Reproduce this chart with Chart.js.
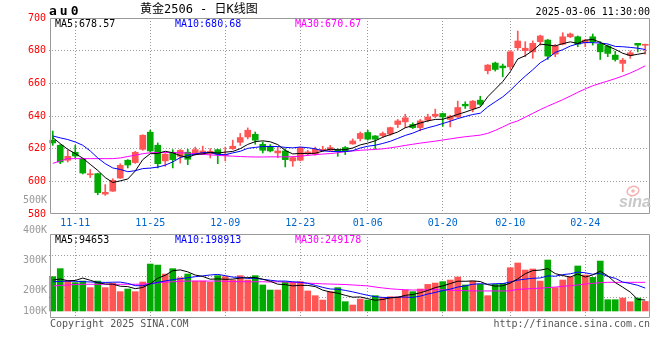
<!DOCTYPE html>
<html><head><meta charset="utf-8">
<script src="https://cdn.jsdelivr.net/npm/chart.js@4.4.1/dist/chart.umd.min.js"></script>
<style>
html,body{margin:0;padding:0;background:#fff;}
#wrap{position:relative;width:660px;height:360px;overflow:hidden;}
canvas{position:absolute;left:0;top:0;}
</style></head><body>
<div id="wrap"><canvas id="pc" width="660" height="360"></canvas><canvas id="vc" width="660" height="360"></canvas></div>
<script>
// ---------- data ----------
const symbolText = 'au0';
const titleText = '黄金2506 - 日K线图';
const stampText = '2025-03-06 11:30:00';
const copyrightText = 'Copyright 2025 SINA.COM';
const urlText = 'http://finance.sina.com.cn';

const dates = ['11-06','11-07','11-08','11-11','11-12','11-13','11-14','11-15','11-18','11-19','11-20','11-21','11-22','11-25','11-26','11-27','11-28','11-29',
'12-02','12-03','12-04','12-05','12-06','12-09','12-10','12-11','12-12','12-13','12-16','12-17','12-18','12-19','12-20','12-23','12-24','12-25','12-26','12-27','12-30','12-31',
'01-02','01-03','01-06','01-07','01-08','01-09','01-10','01-13','01-14','01-15','01-16','01-17','01-20','01-21','01-22','01-23','01-24','01-27',
'02-05','02-06','02-07','02-10','02-11','02-12','02-13','02-14','02-17','02-18','02-19','02-20','02-21','02-24','02-25','02-26','02-27','02-28',
'03-03','03-04','03-05','03-06'];
const dateTickLabels = ['11-11','11-25','12-09','12-23','01-06','01-20','02-10','02-24'];

const opens = [625.2,622.1,612.9,617.8,613.9,604.0,604.7,592.2,594.0,602.0,
612.9,611.5,619.6,630.1,622.1,612.5,617.8,615.3,617.8,617.0,
617.0,617.0,619.4,615.8,620.0,623.9,627.2,628.8,622.7,621.5,
617.4,618.6,612.5,612.9,616.8,616.6,618.8,619.0,619.4,620.7,
622.9,626.2,629.9,627.8,628.0,629.0,634.8,636.4,634.8,632.9,
637.4,639.9,641.5,637.9,639.4,647.2,644.4,649.7,667.7,672.4,
670.6,670.1,681.8,680.0,679.3,685.5,686.5,677.9,684.0,688.5,
688.5,684.8,688.5,684.0,682.8,677.3,672.2,677.1,684.5,683.3];
const highs = [630.8,622.5,619.0,622.0,614.0,607.2,605.0,598.0,601.6,610.8,
613.3,618.4,628.5,631.3,623.5,617.0,619.4,619.5,619.6,621.0,
621.5,620.0,619.6,621.0,625.2,629.3,632.7,630.2,624.1,622.5,
621.0,620.0,615.0,621.0,619.0,621.0,621.5,622.0,620.0,621.3,
626.0,630.2,631.3,628.0,630.2,633.2,637.9,641.1,635.8,637.9,
641.1,644.2,641.8,640.5,649.1,648.7,649.5,652.1,671.5,673.0,
671.8,680.0,692.0,685.5,686.0,689.5,686.9,683.8,691.0,690.8,
689.0,687.0,690.2,685.5,683.5,679.7,675.3,679.9,684.5,684.0];
const lows = [622.0,610.8,611.8,614.3,604.5,602.3,591.8,591.4,593.8,601.8,
608.2,611.0,619.0,618.0,608.2,609.2,608.2,611.2,610.2,616.0,
616.5,614.3,610.8,612.5,619.5,622.0,626.0,622.7,617.4,618.0,
614.5,608.8,609.2,612.5,616.0,616.0,618.4,618.5,615.3,616.4,
622.7,624.7,625.2,620.0,626.8,628.2,632.9,632.9,632.3,630.9,
636.4,639.0,633.7,633.3,639.0,644.6,642.5,646.5,665.8,667.5,
664.0,668.5,680.4,676.3,675.3,683.4,674.6,676.3,683.5,688.0,
682.4,682.4,683.4,674.6,676.3,673.6,667.1,675.3,679.3,677.9];
const closes = [623.5,611.8,615.3,615.5,605.1,604.5,593.1,593.3,600.6,609.8,
610.0,617.8,628.2,618.6,610.8,616.6,613.3,619.0,613.5,619.4,
618.6,618.4,616.6,616.6,621.5,626.8,631.3,625.2,619.0,618.6,
618.6,613.3,614.5,620.7,618.0,619.6,619.6,620.7,618.4,618.6,
624.7,629.3,625.8,625.8,629.3,632.9,637.0,638.9,632.9,637.0,
639.4,641.1,639.4,639.9,645.2,646.2,649.1,647.2,671.2,668.5,
669.5,679.3,685.9,681.5,684.5,689.0,676.7,682.8,688.5,690.2,
684.0,686.5,685.5,679.3,678.3,674.6,674.2,678.7,683.4,683.6];

const ma5 = [626.8,623.1,619.6,617.0,614.2,610.4,606.7,602.3,599.3,600.3,
601.4,606.3,613.3,616.9,617.1,618.4,617.5,615.7,614.6,616.4,
616.8,617.8,617.3,617.9,618.3,620.0,622.6,624.3,624.8,624.2,
622.5,618.9,616.8,617.1,617.0,617.2,618.5,619.7,619.3,619.4,
620.4,622.3,623.4,624.8,627.0,628.6,630.2,632.8,634.2,635.7,
637.0,637.9,638.0,639.4,641.0,642.4,644.0,645.5,651.8,656.4,
661.1,667.1,674.9,676.9,680.1,684.0,683.5,682.9,684.3,685.4,
684.4,686.4,686.9,685.1,682.7,680.8,678.4,677.0,677.8,678.6];
const ma10 = [627.8,626.6,625.6,624.1,622.1,618.6,614.3,610.8,608.2,607.3,
605.9,606.5,607.8,608.1,608.7,609.9,611.9,614.5,615.8,616.7,
617.6,617.6,616.5,616.3,617.4,618.4,620.2,620.8,621.3,621.3,
621.3,620.8,620.5,621.0,620.6,619.9,618.7,618.3,618.2,618.2,
618.8,620.4,621.5,622.1,623.2,624.5,626.3,628.1,629.5,631.4,
632.8,634.0,635.4,636.8,638.4,639.7,640.9,641.7,645.6,648.7,
651.7,655.6,660.2,664.4,668.3,672.6,675.3,678.9,680.6,682.8,
684.2,685.0,684.9,684.7,684.1,682.6,682.4,682.0,681.5,680.7];
const ma30 = [611.0,612.5,613.9,613.9,613.9,613.9,613.9,613.9,613.9,614.3,
615.2,616.0,616.9,617.5,617.6,617.6,617.6,617.5,617.3,616.9,
616.5,616.2,615.9,615.6,615.4,615.2,615.0,614.9,614.9,615.0,
615.0,615.0,615.1,615.4,615.9,616.3,616.7,617.0,617.5,618.2,
618.6,619.0,619.3,619.5,619.9,620.5,621.2,622.0,622.7,623.4,
624.0,624.6,625.3,626.0,626.7,627.3,627.8,628.3,629.4,631.2,
633.3,635.5,637.0,639.3,641.6,643.9,646.0,648.0,650.0,652.2,
654.5,656.6,658.5,660.0,661.4,662.9,664.5,666.3,668.4,670.7];
const priceMaLast = [678.57, 680.68, 670.67];

// volume in thousands of lots
const volumeK = [298,368,260,246,260,203,260,203,240,168,
191,168,252,408,399,321,368,289,321,260,
260,249,307,298,269,307,269,307,226,182,
182,249,249,255,174,133,95,168,203,81,
52,104,95,133,116,124,124,182,168,191,
231,243,255,269,295,226,260,231,133,231,
240,376,417,356,365,260,443,203,269,298,
391,313,292,434,98,98,112,80,112,83];
const vma5 = [269,278,263,265,286,267,246,234,233,215,
212,194,204,237,284,310,350,357,340,312,
300,276,279,275,277,286,290,290,276,258,
233,229,218,223,222,212,181,165,155,136,
120,122,107,93,100,114,118,136,143,158,
179,203,218,238,259,258,261,256,229,216,
219,242,279,324,351,355,368,325,308,295,
321,295,313,346,306,247,207,164,100,95];
const vma10 = [254,257,260,258,255,252,250,248,250,251,
240,220,219,235,249,261,272,280,289,298,
305,313,318,307,294,293,283,285,275,267,
260,260,254,250,240,223,205,191,189,179,
166,151,136,124,118,117,120,121,118,129,
147,161,177,190,208,218,232,237,233,237,
238,252,268,277,284,287,305,302,316,323,
338,332,319,327,300,284,251,239,223,199];
const vma30 = [217,222,226,230,232,232,232,232,232,232,
232,232,234,238,244,250,254,258,260,260,
260,260,260,258,256,255,254,254,254,252,
254,252,249,246,242,239,236,234,232,230,
226,222,218,208,200,193,188,184,182,182,
184,186,184,180,178,176,175,174,174,174,
174,175,188,191,195,198,203,208,214,220,
226,234,240,246,249,249,249,249,249,249];
const volMaLast = [94653, 198913, 249178];

const maNames = ['MA5','MA10','MA30'];
const volTickLabels = ['500K','400K','300K','200K','100K'];

// ---------- styles ----------
const UP = '#ff5555', DOWN = '#00aa00';
const MA_COLORS = ['#000000','#0000ff','#ff00ff'];
const GRID = '#9a9a9a';
const FRAME = '#999999';
const MONO = '"DejaVu Sans Mono", "Liberation Mono", monospace';

const candleColors = opens.map((o, i) => closes[i] >= o ? UP : DOWN);
const bodies = opens.map((o, i) => [o, closes[i]]);
const wicks = lows.map((l, i) => [l, highs[i]]);
const tickIdx = new Set(dateTickLabels.map(d => dates.indexOf(d)));
const CLEAR = 'rgba(0,0,0,0)';

function lineDs(data, color) {
  return {type:'line', data, borderColor: color, borderWidth: 1, pointRadius: 0, tension: 0, fill: false, order: 0};
}

const framePlugin = {
  id: 'frame',
  afterDraw(chart) {
    const {ctx, chartArea: a} = chart;
    ctx.save();
    ctx.strokeStyle = FRAME; ctx.lineWidth = 1;
    const x1 = a.left + 1.5, x2 = a.right + 0.5, y1 = a.top + 0.5, y2 = a.bottom - 0.5;
    ctx.beginPath();
    ctx.moveTo(x1, y1); ctx.lineTo(x2, y1); ctx.lineTo(x2, y2); ctx.lineTo(x1, y2); ctx.closePath();
    ctx.stroke();
    ctx.restore();
  }
};

function maLegend(values, fmt) {
  return {
    id: 'maLegend',
    afterDraw(chart) {
      const {ctx, chartArea: a} = chart;
      ctx.save();
      ctx.font = '10px ' + MONO;
      ctx.textBaseline = 'middle';
      ctx.textAlign = 'left';
      maNames.forEach((n, i) => {
        ctx.fillStyle = MA_COLORS[i];
        ctx.fillText(n + ':' + fmt(values[i]), a.left + 6 + 120 * i, a.top + 6);
      });
      ctx.restore();
    }
  };
}

const headerPlugin = {
  id: 'header',
  afterDraw(chart) {
    const {ctx, chartArea: a} = chart;
    ctx.save();
    ctx.textBaseline = 'middle';
    ctx.fillStyle = '#000';
    ctx.font = 'bold 13px ' + MONO;
    ctx.letterSpacing = '3px';
    ctx.fillText(symbolText, a.left, 12);
    ctx.letterSpacing = '0px';
    ctx.font = '12px "DejaVu Sans Mono", "Noto Sans CJK SC", sans-serif';
    ctx.fillText(titleText, 140, 10);
    ctx.font = '10px ' + MONO;
    ctx.textAlign = 'right';
    ctx.fillText(stampText, a.right + 1, 12.5);
    // sina watermark
    ctx.font = 'italic bold 16px "Liberation Sans", Arial, sans-serif';
    ctx.fillStyle = '#c8c8c8';
    ctx.textBaseline = 'alphabetic';
    ctx.fillText('sina', a.right + 2, a.bottom - 7);
    ctx.strokeStyle = '#f5b5b5';
    ctx.lineWidth = 1.5;
    ctx.beginPath(); ctx.ellipse(a.right - 16, a.bottom - 23, 6, 4.5, -0.3, 0, Math.PI * 2); ctx.stroke();
    ctx.fillStyle = '#f5b5b5';
    ctx.beginPath(); ctx.arc(a.right - 16, a.bottom - 23, 1.8, 0, Math.PI * 2); ctx.fill();
    ctx.restore();
  }
};

const volTextPlugin = {
  id: 'volText',
  afterDraw(chart) {
    const {ctx, chartArea: a} = chart;
    ctx.save();
    ctx.font = '10px ' + MONO;
    ctx.textBaseline = 'middle';
    ctx.textAlign = 'right';
    ctx.fillStyle = '#999';
    volTickLabels.forEach((t, i) => {
      const y = i < volTickLabels.length - 1 ? a.top - 33.5 + 30 * i : a.bottom - 7;
      ctx.fillText(t, a.left - 2, y);
    });
    ctx.fillStyle = '#555';
    ctx.textAlign = 'left';
    ctx.fillText(copyrightText, a.left + 1, a.bottom + 6);
    ctx.textAlign = 'right';
    ctx.fillText(urlText, a.right + 1, a.bottom + 6);
    ctx.restore();
  }
};

const xGrid = {offset: false, drawTicks: false, lineWidth: 1, color: c => tickIdx.has(c.index) ? GRID : CLEAR};

new Chart(document.getElementById('pc'), {
  type: 'bar',
  data: {
    labels: dates,
    datasets: [
      lineDs(ma5, MA_COLORS[0]),
      lineDs(ma10, MA_COLORS[1]),
      lineDs(ma30, MA_COLORS[2]),
      {type:'bar', data: bodies, backgroundColor: candleColors, barThickness: 6, grouped: false, minBarLength: 1, order: 1},
      {type:'bar', data: wicks, backgroundColor: candleColors, barThickness: 1, grouped: false, order: 2}
    ]
  },
  options: {
    responsive: false, animation: false, devicePixelRatio: 1,
    layout: {padding: {left: 0, right: 11, top: 18, bottom: 134}},
    plugins: {legend: {display: false}, tooltip: {enabled: false}},
    scales: {
      x: {
        ticks: {autoSkip: false, maxRotation: 0, minRotation: 0, padding: 3, color: '#0066cc',
          font: {family: MONO, size: 10},
          callback: (v, i) => tickIdx.has(i) ? dates[i] : ''},
        grid: xGrid,
        border: {display: false, dash: [1, 2]},
        afterFit: s => { s.height = 12; }
      },
      y: {
        min: 580, max: 700,
        ticks: {stepSize: 20, color: '#ff0000', padding: 3, font: {family: MONO, size: 10}},
        grid: {drawTicks: false, color: c => (c.tick && (c.tick.value === 700 || c.tick.value === 580)) ? CLEAR : GRID},
        border: {display: false, dash: [1, 2]},
        afterFit: s => { s.width = 49; }
      }
    }
  },
  plugins: [framePlugin, headerPlugin, maLegend(priceMaLast, v => v.toFixed(2))]
});

new Chart(document.getElementById('vc'), {
  type: 'bar',
  data: {
    labels: dates,
    datasets: [
      lineDs(vma5, MA_COLORS[0]),
      lineDs(vma10, MA_COLORS[1]),
      lineDs(vma30, MA_COLORS[2]),
      {type:'bar', data: volumeK, backgroundColor: candleColors, barThickness: 6, order: 1}
    ]
  },
  options: {
    responsive: false, animation: false, devicePixelRatio: 1,
    layout: {padding: {left: 0, right: 11, top: 234, bottom: 42}},
    plugins: {legend: {display: false}, tooltip: {enabled: false}},
    scales: {
      x: {
        ticks: {display: false, autoSkip: false},
        grid: xGrid,
        border: {display: false, dash: [1, 2]},
        afterFit: s => { s.height = 0; }
      },
      y: {
        min: -61, max: 669,
        ticks: {display: false},
        afterBuildTicks: s => { const r = s.max - s.min; s.ticks = [0.25, 0.5, 0.75].map(f => ({value: s.min + r * f})); },
        grid: {drawTicks: false, color: GRID},
        border: {display: false, dash: [1, 2]},
        afterFit: s => { s.width = 49; }
      }
    }
  },
  plugins: [framePlugin, volTextPlugin, maLegend(volMaLast, v => String(v))]
});
</script>
</body></html>
